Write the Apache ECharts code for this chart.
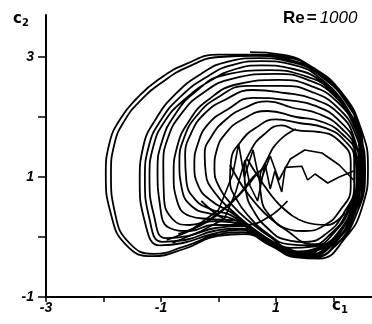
<!DOCTYPE html>
<html>
<head>
<meta charset="utf-8">
<script src="https://cdn.jsdelivr.net/npm/echarts@6/dist/echarts.min.js"></script>
<style>
  html, body { margin: 0; padding: 0; background: #fff; }
  #chart { width: 372px; height: 324px; }
</style>
</head>
<body>
<div id="chart"></div>
<script>
// tick marks / labels
var xTicks = [-3, -2, -1, 0, 1, 2];
var xLabels = [-3, -1, 1];
var yTicks = [-1, 0, 1, 2, 3];
var yLabels = [-1, 1, 3];

// trajectory loops, [c1, c2]
var loopA1 = [[0.55,3.08],[1.1,3.04],[1.65,2.82],[2.15,2.4],[2.48,1.8],[2.6,1.15],[2.5,0.5],[2.2,-0.02],[1.75,-0.36],[1.35,-0.34],[0.9,-0.14],[0.45,0.05],[0.0,0.02],[-0.6,-0.2],[-1.15,-0.32],[-1.6,-0.14],[-1.87,0.38],[-1.96,1.05],[-1.9,1.55],[-1.7,1.98],[-1.43,2.3],[-1.05,2.62],[-0.57,2.88],[0.0,3.04]];
var loopA2 = [[0.6,3.04],[1.15,3.0],[1.7,2.78],[2.18,2.33],[2.45,1.75],[2.55,1.1],[2.44,0.48],[2.12,0.0],[1.7,-0.32],[1.3,-0.3],[0.88,-0.1],[0.42,0.08],[-0.05,0.03],[-0.6,-0.16],[-1.12,-0.28],[-1.55,-0.1],[-1.8,0.4],[-1.87,1.05],[-1.81,1.55],[-1.62,1.96],[-1.35,2.28],[-0.98,2.58],[-0.52,2.84],[0.02,3.0]];
var loopB1 = [[0.65,3.02],[1.2,2.96],[1.72,2.74],[2.2,2.28],[2.47,1.7],[2.52,1.05],[2.38,0.42],[2.05,-0.06],[1.62,-0.3],[1.22,-0.24],[0.82,-0.04],[0.38,0.12],[-0.1,0.05],[-0.62,-0.1],[-1.02,-0.14],[-1.28,0.25],[-1.37,0.95],[-1.31,1.5],[-1.1,1.95],[-0.75,2.38],[-0.3,2.72],[0.15,2.92]];
var loopB2 = [[0.7,2.98],[1.25,2.92],[1.78,2.68],[2.25,2.2],[2.5,1.62],[2.54,1.0],[2.4,0.38],[2.08,-0.1],[1.65,-0.34],[1.25,-0.28],[0.84,-0.06],[0.4,0.14],[-0.08,0.1],[-0.58,-0.05],[-0.98,-0.08],[-1.2,0.3],[-1.28,0.98],[-1.21,1.52],[-1.0,1.95],[-0.66,2.34],[-0.22,2.66],[0.25,2.87]];
var loopB3 = [[0.75,2.93],[1.3,2.87],[1.8,2.62],[2.22,2.15],[2.44,1.58],[2.47,0.98],[2.32,0.36],[2.0,-0.08],[1.6,-0.28],[1.2,-0.2],[0.8,0.0],[0.38,0.18],[-0.05,0.15],[-0.52,0.02],[-0.92,-0.02],[-1.12,0.35],[-1.2,1.0],[-1.13,1.52],[-0.92,1.95],[-0.58,2.3],[-0.15,2.6],[0.3,2.8]];
var loopC1 = [[0.75,2.86],[1.3,2.8],[1.85,2.55],[2.28,2.08],[2.5,1.5],[2.5,0.9],[2.3,0.3],[1.95,-0.12],[1.55,-0.3],[1.15,-0.2],[0.75,0.02],[0.32,0.2],[-0.1,0.2],[-0.5,0.1],[-0.85,0.15],[-1.02,0.55],[-1.06,1.1],[-0.98,1.6],[-0.75,2.05],[-0.4,2.42],[0.1,2.7]];
var loopC2 = [[0.9,2.78],[1.45,2.7],[1.95,2.45],[2.32,1.98],[2.48,1.45],[2.46,0.85],[2.25,0.28],[1.9,-0.1],[1.5,-0.25],[1.1,-0.15],[0.7,0.06],[0.28,0.24],[-0.12,0.26],[-0.5,0.2],[-0.8,0.3],[-0.95,0.7],[-0.96,1.2],[-0.88,1.65],[-0.65,2.05],[-0.3,2.38],[0.25,2.64]];
var loopC3 = [[1.0,2.72],[1.55,2.62],[2.02,2.35],[2.35,1.88],[2.47,1.35],[2.43,0.78],[2.2,0.22],[1.85,-0.14],[1.45,-0.28],[1.05,-0.16],[0.65,0.08],[0.25,0.28],[-0.15,0.3],[-0.5,0.35],[-0.72,0.6],[-0.78,1.05],[-0.72,1.5],[-0.52,1.92],[-0.2,2.27],[0.35,2.55]];
var loopC4 = [[1.05,2.62],[1.6,2.52],[2.07,2.25],[2.38,1.8],[2.5,1.28],[2.45,0.7],[2.22,0.16],[1.85,-0.2],[1.45,-0.32],[1.05,-0.2],[0.65,0.05],[0.25,0.3],[-0.12,0.38],[-0.45,0.5],[-0.64,0.82],[-0.68,1.25],[-0.6,1.65],[-0.38,2.02],[-0.02,2.32],[0.5,2.52]];
var loopC5 = [[1.1,2.52],[1.62,2.42],[2.08,2.15],[2.38,1.72],[2.48,1.22],[2.4,0.65],[2.15,0.12],[1.78,-0.2],[1.38,-0.28],[1.0,-0.14],[0.6,0.1],[0.22,0.36],[-0.1,0.45],[-0.4,0.62],[-0.56,0.95],[-0.58,1.35],[-0.48,1.72],[-0.25,2.05],[0.1,2.28],[0.6,2.45]];
var loopD1 = [[1.15,2.4],[1.65,2.3],[2.1,2.05],[2.36,1.65],[2.44,1.15],[2.35,0.6],[2.1,0.1],[1.72,-0.18],[1.32,-0.24],[0.95,-0.08],[0.55,0.18],[0.2,0.42],[-0.12,0.6],[-0.35,0.85],[-0.42,1.2],[-0.36,1.55],[-0.18,1.88],[0.15,2.12],[0.6,2.32]];
var loopD2 = [[1.2,2.28],[1.7,2.18],[2.12,1.92],[2.38,1.55],[2.46,1.1],[2.36,0.55],[2.08,0.06],[1.7,-0.22],[1.3,-0.26],[0.92,-0.1],[0.55,0.18],[0.22,0.45],[-0.05,0.72],[-0.22,1.05],[-0.24,1.38],[-0.12,1.68],[0.12,1.95],[0.45,2.15],[0.85,2.26]];
var loopD3 = [[1.3,2.15],[1.75,2.05],[2.15,1.8],[2.38,1.45],[2.42,1.05],[2.3,0.52],[2.02,0.08],[1.65,-0.16],[1.25,-0.18],[0.9,0.0],[0.55,0.25],[0.25,0.52],[0.02,0.82],[-0.07,1.15],[-0.03,1.45],[0.12,1.72],[0.4,1.95],[0.85,2.1]];
var loopD4 = [[1.35,2.0],[1.8,1.92],[2.17,1.7],[2.38,1.38],[2.4,0.95],[2.25,0.45],[1.95,0.05],[1.58,-0.14],[1.2,-0.12],[0.85,0.06],[0.55,0.32],[0.32,0.62],[0.2,0.95],[0.22,1.28],[0.38,1.58],[0.65,1.82],[1.0,1.96]];
var loopE1 = [[1.4,1.9],[1.85,1.82],[2.2,1.6],[2.36,1.3],[2.36,0.85],[2.18,0.4],[1.88,0.06],[1.52,-0.08],[1.15,-0.04],[0.85,0.15],[0.62,0.42],[0.48,0.75],[0.45,1.1],[0.55,1.42],[0.78,1.7],[1.1,1.86]];
var loopE2 = [[1.35,1.78],[1.75,1.75],[2.1,1.6],[2.3,1.25],[2.3,0.82],[2.12,0.45],[1.85,0.2],[1.5,0.1],[1.15,0.15],[0.9,0.35],[0.75,0.62],[0.72,0.95],[0.85,1.3],[1.05,1.6],[1.35,1.8]];

// crossing strands in the lower middle
var meshA = [[-0.9,-0.05],[-0.4,0.15],[0.0,0.4],[0.35,0.7],[0.6,1.0],[0.8,1.15]];
var meshB = [[-0.7,0.05],[-0.2,0.25],[0.2,0.55],[0.5,0.85],[0.7,1.1]];
var meshC = [[0.2,1.2],[0.45,0.8],[0.8,0.4],[1.2,0.1],[1.6,-0.12],[2.0,-0.12],[2.3,0.2]];
var meshD = [[0.5,1.3],[0.8,0.85],[1.1,0.5],[1.5,0.25],[1.9,0.2],[2.2,0.4]];
var meshE = [[-0.3,0.6],[0.1,0.3],[0.5,0.2],[0.9,0.35],[1.2,0.6]];

// jagged pieces in the middle of the tangle
var spikes1 = [[-0.8,-0.1],[-0.3,0.1],[0.1,0.3],[0.3,0.75],[0.46,1.28],[0.55,0.85],[0.68,0.6],[0.81,1.22],[0.9,0.8],[0.98,1.1],[1.1,0.75],[1.16,1.16],[1.45,1.18],[1.55,0.95],[1.68,1.05],[1.9,0.9],[2.1,1.0],[2.35,1.1]];
var spikes2 = [[-0.5,0.1],[0.0,0.45],[0.25,1.05],[0.35,1.55],[0.45,1.0],[0.6,1.45],[0.72,0.9],[0.9,1.35],[1.05,0.95],[1.25,1.3],[1.5,1.45],[1.8,1.4],[2.1,1.2],[2.35,0.95]];

var loops = [loopA1, loopA2, loopB1, loopB2, loopB3, loopC1, loopC2, loopC3, loopC4, loopC5,
             loopD1, loopD2, loopD3, loopD4, loopE1, loopE2];
var trajectory = [];
loops.forEach(function (l) { trajectory = trajectory.concat(l); });
var meshes = [meshA, meshB, meshC, meshD, meshE];
var jagged = [spikes1, spikes2];

var myChart = echarts.init(document.getElementById('chart'));
var numFont = { color: '#000', fontSize: 14, fontWeight: 'bold', fontStyle: 'italic', fontFamily: 'Liberation Sans' };
var black = { color: '#000', width: 1.8 };

var series = [
  { type: 'line', data: trajectory, smooth: 0.5, symbol: 'none', lineStyle: black }
];
meshes.forEach(function (m) {
  series.push({ type: 'line', data: m, smooth: 0.4, symbol: 'none', lineStyle: black });
});
jagged.forEach(function (s) {
  series.push({ type: 'line', data: s, smooth: false, symbol: 'none', lineStyle: { color: '#000', width: 1.6 } });
});

var option = {
  animation: false,
  backgroundColor: '#fff',
  grid: { left: 46, right: 0, top: 15, bottom: 27 },
  xAxis: {
    type: 'value', min: -3, max: 2.67, interval: 1,
    splitLine: { show: false },
    axisLine: { onZero: false, lineStyle: { color: '#000', width: 2 } },
    axisTick: { customValues: xTicks, length: 5, lineStyle: { color: '#000', width: 1.5 } },
    axisLabel: Object.assign({ customValues: xLabels, margin: 4 }, numFont)
  },
  yAxis: {
    type: 'value', min: -1, max: 3.7, interval: 1,
    splitLine: { show: false },
    axisLine: { onZero: false, lineStyle: { color: '#000', width: 2 } },
    axisTick: { customValues: yTicks, length: 8, lineStyle: { color: '#000', width: 1.5 } },
    axisLabel: Object.assign({ customValues: yLabels, margin: 12 }, numFont)
  },
  graphic: [
    { type: 'text', left: 13, top: 12, style: { text: '{c|c}{s|2}', rich: {
        c: { fontSize: 15, fontWeight: 'bold', fontFamily: 'DejaVu Sans', fill: '#000' },
        s: { fontSize: 10, fontWeight: 'bold', fontFamily: 'DejaVu Sans', fill: '#000', padding: [8, 0, 0, 0] } } } },
    { type: 'text', left: 332, top: 299, style: { text: '{c|c}{s|1}', rich: {
        c: { fontSize: 15, fontWeight: 'bold', fontFamily: 'DejaVu Sans', fill: '#000' },
        s: { fontSize: 10, fontWeight: 'bold', fontFamily: 'DejaVu Sans', fill: '#000', padding: [8, 0, 0, 0] } } } },
    { type: 'text', left: 283, top: 10, style: { text: '{r|Re}{e|=}{n|1000}', rich: {
        r: { fontSize: 17, fontWeight: 'bold', fontFamily: 'Liberation Sans', fill: '#000' },
        e: { fontSize: 17, fontWeight: 'bold', fontFamily: 'Liberation Sans', fill: '#000', padding: [0, 3, 0, 2] },
        n: { fontSize: 17, fontStyle: 'italic', fontFamily: 'Liberation Sans', fill: '#000' } } } }
  ],
  series: series
};
myChart.setOption(option);
</script>
</body>
</html>
